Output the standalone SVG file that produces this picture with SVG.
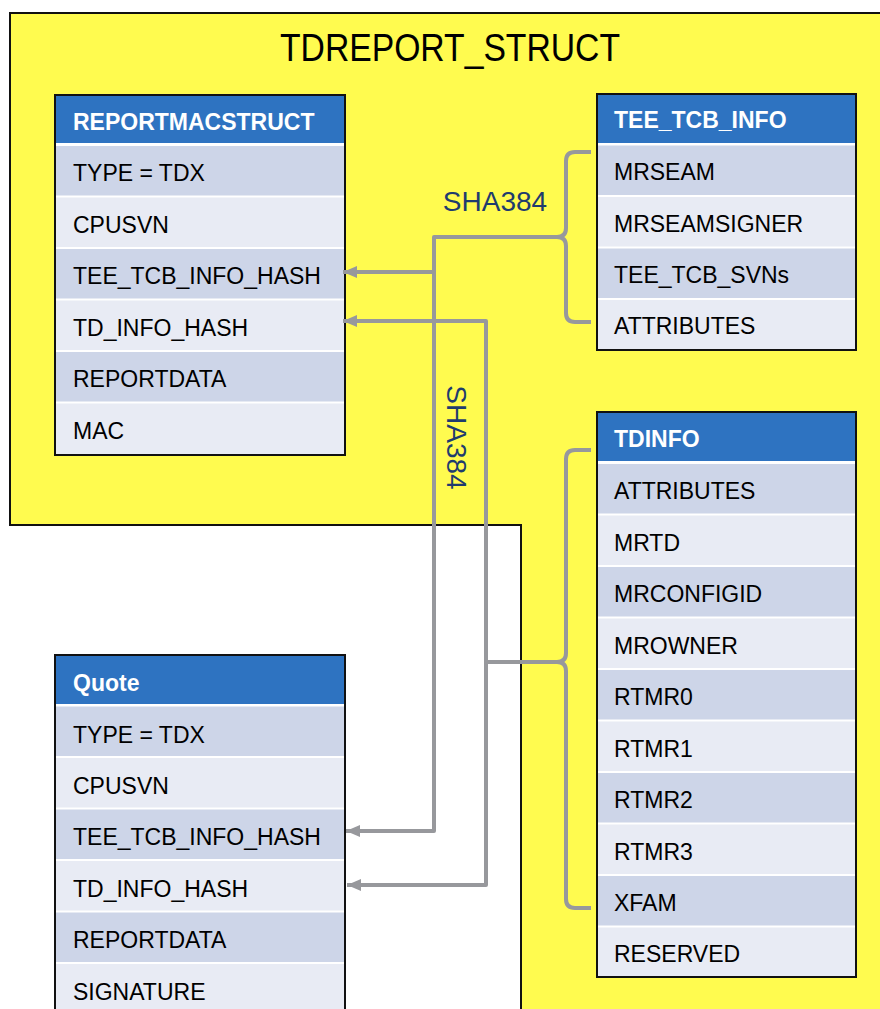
<svg xmlns="http://www.w3.org/2000/svg" width="880" height="1009" viewBox="0 0 880 1009">
<defs>
<style>
.hdr{fill:#2E73C1}
.rd{fill:#CDD5E8}
.rl{fill:#E8EBF4}
.frame{fill:none;stroke:#111;stroke-width:2}
.ht{font-family:"Liberation Sans",Arial,sans-serif;font-size:23px;font-weight:bold;fill:#fff}
.rt{font-family:"Liberation Sans",Arial,sans-serif;font-size:23px;fill:#000}
.con{fill:none;stroke:#97989C;stroke-width:4;stroke-linejoin:round}
.sha{font-family:"Liberation Sans",Arial,sans-serif;font-size:28px;fill:#1F3C6E}
</style>
<marker id="ah" markerUnits="userSpaceOnUse" markerWidth="16" markerHeight="16" viewBox="0 0 16 16" refX="14" refY="8" orient="auto">
<path d="M0,2 L14,8 L0,14 Z" fill="#97989C"/>
</marker>
</defs>
<rect width="880" height="1009" fill="#fff"/>
<g id="tdreport_struct">
<polygon points="10,13 884,13 884,1013 521,1013 521,525 10,525" fill="#FFFB4F" stroke="#111" stroke-width="2"/>
<text x="450" y="61" text-anchor="middle" font-family="Liberation Sans,Arial,sans-serif" font-size="38" textLength="340" lengthAdjust="spacingAndGlyphs" fill="#000">TDREPORT_STRUCT</text>
</g>
<g id="reportmacstruct">
<rect x="55" y="95" width="290" height="360" fill="#fff"/>
<rect class="hdr" x="55" y="95" width="290" height="48"/>
<rect class="rd" x="55" y="146" width="290" height="49.5"/>
<rect class="rl" x="55" y="197.5" width="290" height="49.5"/>
<rect class="rd" x="55" y="249" width="290" height="49.5"/>
<rect class="rl" x="55" y="300.5" width="290" height="49.5"/>
<rect class="rd" x="55" y="352" width="290" height="49.5"/>
<rect class="rl" x="55" y="403.5" width="290" height="51.5"/>
<rect class="frame" x="55" y="95" width="290" height="360"/>
<text class="ht" x="73" y="130">REPORTMACSTRUCT</text>
<text class="rt" x="73" y="181">TYPE = TDX</text>
<text class="rt" x="73" y="233">CPUSVN</text>
<text class="rt" x="73" y="284">TEE_TCB_INFO_HASH</text>
<text class="rt" x="73" y="336">TD_INFO_HASH</text>
<text class="rt" x="73" y="387">REPORTDATA</text>
<text class="rt" x="73" y="439">MAC</text>
</g>
<g id="tee_tcb_info">
<rect x="597" y="94" width="259" height="256" fill="#fff"/>
<rect class="hdr" x="597" y="94" width="259" height="49"/>
<rect class="rd" x="597" y="145.5" width="259" height="49.5"/>
<rect class="rl" x="597" y="197" width="259" height="49.5"/>
<rect class="rd" x="597" y="248.5" width="259" height="49.5"/>
<rect class="rl" x="597" y="300" width="259" height="50"/>
<rect class="frame" x="597" y="94" width="259" height="256"/>
<text class="ht" x="614" y="128">TEE_TCB_INFO</text>
<text class="rt" x="614" y="180">MRSEAM</text>
<text class="rt" x="614" y="232">MRSEAMSIGNER</text>
<text class="rt" x="614" y="283">TEE_TCB_SVNs</text>
<text class="rt" x="614" y="334">ATTRIBUTES</text>
</g>
<g id="tdinfo">
<rect x="597" y="412" width="259" height="565" fill="#fff"/>
<rect class="hdr" x="597" y="412" width="259" height="49"/>
<rect class="rd" x="597" y="464" width="259" height="49.5"/>
<rect class="rl" x="597" y="515.5" width="259" height="49.5"/>
<rect class="rd" x="597" y="567" width="259" height="49.5"/>
<rect class="rl" x="597" y="618.5" width="259" height="49.5"/>
<rect class="rd" x="597" y="670" width="259" height="49.5"/>
<rect class="rl" x="597" y="721.5" width="259" height="49.5"/>
<rect class="rd" x="597" y="773" width="259" height="49.5"/>
<rect class="rl" x="597" y="824.5" width="259" height="49.5"/>
<rect class="rd" x="597" y="876" width="259" height="49.5"/>
<rect class="rl" x="597" y="927.5" width="259" height="49.5"/>
<rect class="frame" x="597" y="412" width="259" height="565"/>
<text class="ht" x="614" y="447">TDINFO</text>
<text class="rt" x="614" y="499">ATTRIBUTES</text>
<text class="rt" x="614" y="551">MRTD</text>
<text class="rt" x="614" y="602">MRCONFIGID</text>
<text class="rt" x="614" y="654">MROWNER</text>
<text class="rt" x="614" y="705">RTMR0</text>
<text class="rt" x="614" y="757">RTMR1</text>
<text class="rt" x="614" y="808">RTMR2</text>
<text class="rt" x="614" y="860">RTMR3</text>
<text class="rt" x="614" y="911">XFAM</text>
<text class="rt" x="614" y="962">RESERVED</text>
</g>
<g id="quote">
<rect x="55" y="655" width="290" height="360" fill="#fff"/>
<rect class="hdr" x="55" y="655" width="290" height="49"/>
<rect class="rd" x="55" y="706.5" width="290" height="49.5"/>
<rect class="rl" x="55" y="758" width="290" height="49.5"/>
<rect class="rd" x="55" y="809.5" width="290" height="49.5"/>
<rect class="rl" x="55" y="861" width="290" height="49.5"/>
<rect class="rd" x="55" y="912.5" width="290" height="49.5"/>
<rect class="rl" x="55" y="964" width="290" height="50"/>
<rect class="frame" x="55" y="655" width="290" height="365"/>
<text class="ht" x="73" y="691">Quote</text>
<text class="rt" x="73" y="743">TYPE = TDX</text>
<text class="rt" x="73" y="794">CPUSVN</text>
<text class="rt" x="73" y="845">TEE_TCB_INFO_HASH</text>
<text class="rt" x="73" y="897">TD_INFO_HASH</text>
<text class="rt" x="73" y="948">REPORTDATA</text>
<text class="rt" x="73" y="1000">SIGNATURE</text>
</g>
<g id="connectors">
<path class="con" d="M591,152 L575,152 Q566,152 566,161 L566,228 Q566,237 557,237 Q566,237 566,246 L566,313 Q566,322 575,322 L591,322"/>
<path class="con" d="M591,450 L575,450 Q566,450 566,459 L566,653 Q566,662 557,662 Q566,662 566,671 L566,899 Q566,908 575,908 L591,908"/>
<path class="con" d="M557,237 L434,237 L434,831 L346,831" marker-end="url(#ah)"/>
<path class="con" d="M434,272 L343,272" marker-end="url(#ah)"/>
<path class="con" d="M557,662 L486,662 L486,885 L347,885" marker-end="url(#ah)"/>
<path class="con" d="M486,662 L486,321 L343,321" marker-end="url(#ah)"/>
<text class="sha" x="495" y="211" text-anchor="middle">SHA384</text>
<text class="sha" transform="translate(447,437.5) rotate(90)" x="0" y="0" text-anchor="middle">SHA384</text>
</g>
</svg>
